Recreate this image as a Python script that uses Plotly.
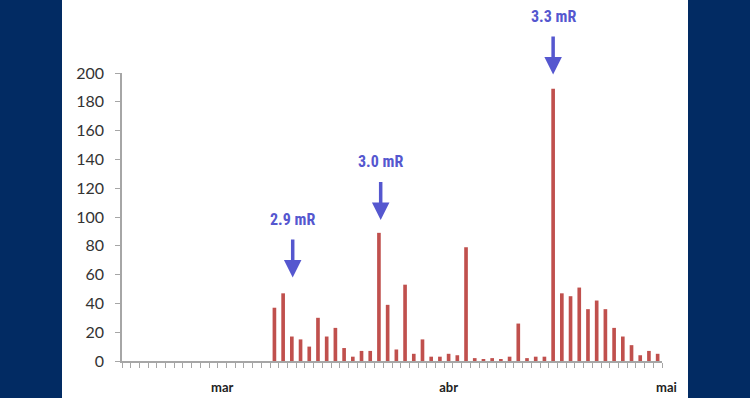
import plotly.graph_objects as go

# ---- data ----
values = [0] * 17 + [
    37, 47, 17, 15, 10, 30, 17, 23, 9, 3, 7, 7,
    89, 39, 8, 53, 5, 15, 3, 3, 5, 4,
    79, 2, 1, 2, 1, 3, 26, 2, 3, 3,
    189, 47, 45, 51, 36, 42, 36, 23, 17, 11, 4, 7, 5,
]
slots = list(range(len(values)))
month_labels = ["mar", "abr", "mai"]
month_pos = [11, 37, 62]
y_ticks = list(range(0, 201, 20))

ann_text = ["2.9 mR", "3.0 mR", "3.3 mR"]
ann_x = [19.1, 29.2, 49.0]
ann_y = [58, 98, 199]

NAVY = "#022b63"
BAR = "#c0504d"
ARROW = "#5557cf"
AXIS = "#a6a6a6"

fig = go.Figure()
fig.add_trace(go.Bar(x=slots, y=values, marker=dict(color=BAR, line=dict(width=0)),
                     width=0.42, hoverinfo="x+y"))

L, R, T, B = 122, 88, 73, 37
W, H = 750, 398
pw, ph = W - L - R, H - T - B
x_lo, x_hi = -0.5, len(values) - 0.5

shapes = [dict(type="rect", xref="paper", yref="paper",
               x0=(62 - L) / pw, x1=(688 - L) / pw,
               y0=-(B + 5) / ph, y1=(ph + T + 5) / ph,
               fillcolor="white", line=dict(width=0), layer="below")]

annotations = []
for t, x, y in zip(ann_text, ann_x, ann_y):
    annotations.append(dict(x=x, y=y, xref="x", yref="y", text=t, showarrow=True,
                            ax=0, ay=-58, arrowhead=2, arrowsize=1.0, arrowwidth=3.5,
                            arrowcolor=ARROW, startstandoff=9, standoff=0,
                            font=dict(family="Roboto Condensed, Roboto", size=16, color=ARROW,
                                      weight="bold")))
# last month label sits just past the axis end
annotations.append(dict(x=(month_pos[2] - x_lo) / (x_hi - x_lo), y=0, xref="paper",
                        yref="paper", yanchor="top", xanchor="center",
                        yshift=-16, text=month_labels[2], showarrow=False,
                        font=dict(family="Lato", size=13, color="#222", weight="bold")))

fig.update_layout(
    width=W, height=H,
    margin=dict(l=L, r=R, t=T, b=B, pad=0, autoexpand=False),
    paper_bgcolor=NAVY, plot_bgcolor="white",
    showlegend=False, bargap=0.5,
    shapes=shapes, annotations=annotations,
    xaxis=dict(range=[x_lo, x_hi], tickvals=month_pos[:2], automargin=False,
               ticktext=month_labels[:2], ticks="", showgrid=False, zeroline=False,
               showline=True, linecolor=AXIS, linewidth=1.5,
               tickfont=dict(family="Lato", size=13, color="#222", weight="bold"),
               ticklabelstandoff=14,
               minor=dict(tickmode="linear", tick0=-0.5, dtick=1, ticks="outside",
                          ticklen=5, tickcolor=AXIS, tickwidth=1, showgrid=False)),
    yaxis=dict(range=[0, 200], tickvals=y_ticks, ticks="outside", ticklen=5,
               automargin=False,
               tickcolor=AXIS, showgrid=False, zeroline=False, showline=True,
               linecolor=AXIS, linewidth=1.5, ticklabelstandoff=8,
               tickfont=dict(family="Lato", size=16, color="#333")),
)

fig.write_html("out.html", config={"displayModeBar": False},
               post_script="document.body.style.margin='0';document.body.style.overflow='hidden';")
